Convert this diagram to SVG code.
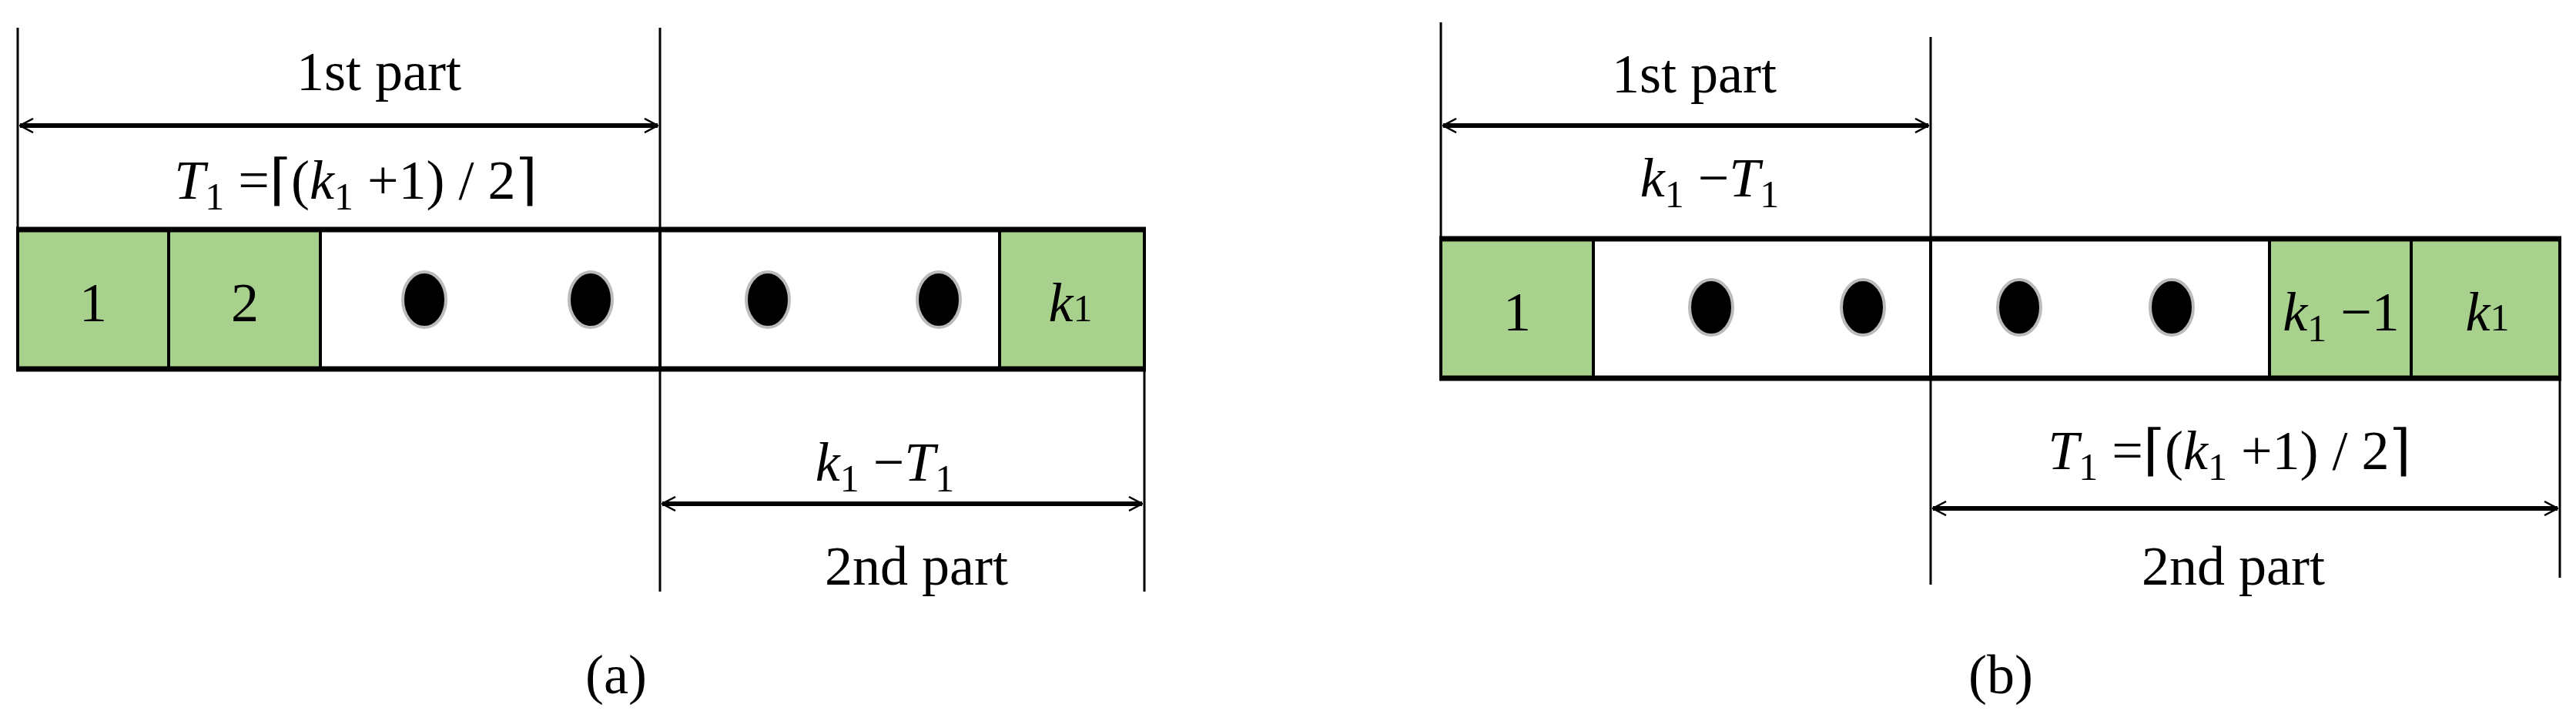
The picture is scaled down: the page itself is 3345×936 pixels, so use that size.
<svg xmlns="http://www.w3.org/2000/svg" width="3345" height="936" viewBox="0 0 3345 936">
<style>
text{font-family:"Liberation Serif","DejaVu Serif",serif;font-size:72px;fill:#000;text-anchor:middle}
.i{font-style:italic}
.s{font-size:50px}
.g{fill:#A9D18E;stroke:#000;stroke-width:4}
.w{fill:#fff;stroke:#000;stroke-width:4}
.bar{stroke:#000;stroke-width:7}
.v{stroke:#000;stroke-width:3;fill:none}
.dot{fill:#000;stroke:#bbb;stroke-width:4}
.arr{stroke:#000;stroke-width:6;fill:none;marker-start:url(#ah);marker-end:url(#ah)}
</style>
<defs>
<marker id="ah" viewBox="0 0 20 20" refX="19" refY="10" markerWidth="20" markerHeight="20" markerUnits="userSpaceOnUse" orient="auto-start-reverse">
<path d="M2,1 L19,10 L2,19" fill="none" stroke="#000" stroke-width="2.5"/>
</marker>
</defs>
<g id="panel-a">
<g id="a-cells">
<rect class="g" x="23" y="298" width="196" height="181"/>
<rect class="g" x="219" y="298" width="197" height="181"/>
<rect class="w" x="416" y="298" width="441" height="181"/>
<rect class="w" x="857" y="298" width="441" height="181"/>
<rect class="g" x="1298" y="298" width="188" height="181"/>
<line class="bar" x1="21" y1="298" x2="1488" y2="298"/>
<line class="bar" x1="21" y1="479" x2="1488" y2="479"/>
<ellipse class="dot" cx="551" cy="389" rx="28" ry="36"/>
<ellipse class="dot" cx="767" cy="389" rx="28" ry="36"/>
<ellipse class="dot" cx="997" cy="389" rx="28" ry="36"/>
<ellipse class="dot" cx="1219" cy="389" rx="28" ry="36"/>
<text x="121" y="417">1</text>
<text x="318" y="417">2</text>
<text x="1390" y="417"><tspan class="i">k</tspan><tspan class="s">1</tspan></text>
</g>
<g id="a-connectors">
<line class="v" x1="23" y1="36" x2="23" y2="298"/>
<line class="v" x1="857" y1="36" x2="857" y2="768"/>
<line class="v" x1="1486" y1="479" x2="1486" y2="768"/>
<line class="arr" x1="26" y1="163" x2="854" y2="163"/>
<line class="arr" x1="860" y1="654" x2="1483" y2="654"/>
</g>
<text x="492" y="117">1st  part</text>
<text x="462" y="258"><tspan class="i">T</tspan><tspan class="s" dy="14">1</tspan><tspan dy="-14"> =⌈(</tspan><tspan class="i">k</tspan><tspan class="s" dy="14">1</tspan><tspan dy="-14"> +1) / 2⌉</tspan></text>
<text x="1149" y="624"><tspan class="i">k</tspan><tspan class="s" dy="14">1</tspan><tspan dy="-14"> −</tspan><tspan class="i">T</tspan><tspan class="s" dy="14">1</tspan></text>
<text x="1190" y="759">2nd  part</text>
<text x="800" y="900">(a)</text>
</g>
<g id="panel-b">
<g id="b-cells">
<rect class="g" x="1871" y="310" width="198" height="181"/>
<rect class="w" x="2069" y="310" width="438" height="181"/>
<rect class="w" x="2507" y="310" width="440" height="181"/>
<rect class="g" x="2947" y="310" width="184" height="181"/>
<rect class="g" x="3131" y="310" width="193" height="181"/>
<line class="bar" x1="1869" y1="310" x2="3326" y2="310"/>
<line class="bar" x1="1869" y1="491" x2="3326" y2="491"/>
<ellipse class="dot" cx="2222" cy="399" rx="28" ry="36"/>
<ellipse class="dot" cx="2419" cy="399" rx="28" ry="36"/>
<ellipse class="dot" cx="2622" cy="399" rx="28" ry="36"/>
<ellipse class="dot" cx="2820" cy="399" rx="28" ry="36"/>
<text x="1970" y="429">1</text>
<text x="3040" y="429"><tspan class="i">k</tspan><tspan class="s" dy="14">1</tspan><tspan dy="-14"> −1</tspan></text>
<text x="3230" y="429"><tspan class="i">k</tspan><tspan class="s">1</tspan></text>
</g>
<g id="b-connectors">
<line class="v" x1="1871" y1="29" x2="1871" y2="310"/>
<line class="v" x1="2507" y1="48" x2="2507" y2="759"/>
<line class="v" x1="3324" y1="491" x2="3324" y2="750"/>
<line class="arr" x1="1874" y1="163" x2="2504" y2="163"/>
<line class="arr" x1="2510" y1="660" x2="3321" y2="660"/>
</g>
<text x="2200" y="120">1st  part</text>
<text x="2220" y="255"><tspan class="i">k</tspan><tspan class="s" dy="14">1</tspan><tspan dy="-14"> −</tspan><tspan class="i">T</tspan><tspan class="s" dy="14">1</tspan></text>
<text x="2895" y="609"><tspan class="i">T</tspan><tspan class="s" dy="14">1</tspan><tspan dy="-14"> =⌈(</tspan><tspan class="i">k</tspan><tspan class="s" dy="14">1</tspan><tspan dy="-14"> +1) / 2⌉</tspan></text>
<text x="2900" y="759">2nd  part</text>
<text x="2598" y="900">(b)</text>
</g>
</svg>
